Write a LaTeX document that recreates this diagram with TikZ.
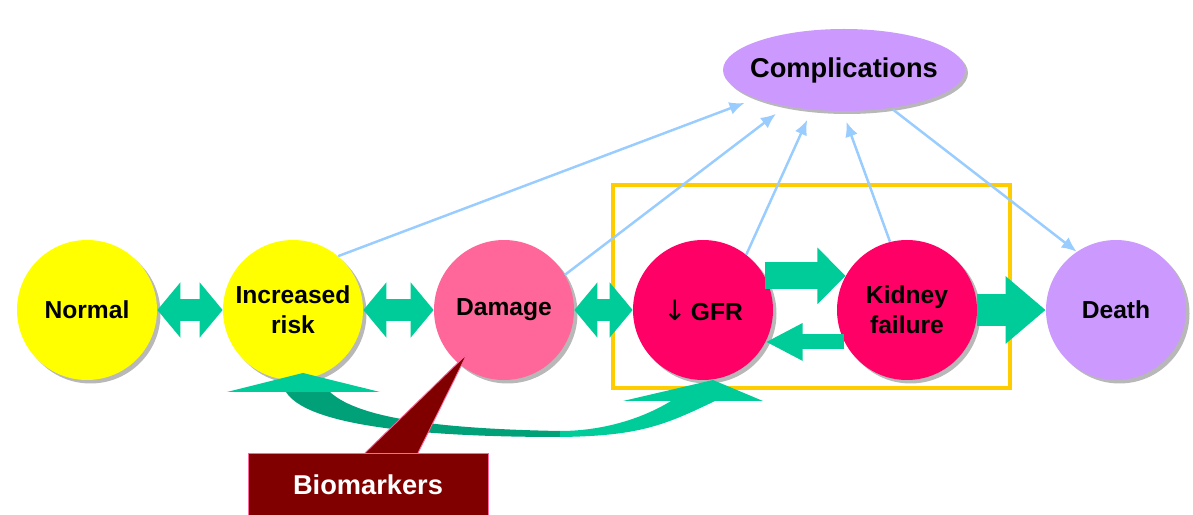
\documentclass[tikz,border=0pt]{standalone}
\usepackage{fontspec}
\setmainfont{Liberation Sans}
\newfontfamily\arrowfont{DejaVu Sans}
\usepackage{tikz}
\usetikzlibrary{shapes.geometric, arrows.meta, positioning, calc, shadows}
\definecolor{myyellow}{RGB}{255,255,0}
\definecolor{mypink}{RGB}{255,102,153}
\definecolor{mymagenta}{RGB}{255,0,102}
\definecolor{mylilac}{RGB}{204,153,255}
\definecolor{mygreen}{RGB}{0,204,153}
\definecolor{mydkgreen}{RGB}{0,160,120}
\definecolor{myblue}{RGB}{153,204,255}
\definecolor{mygold}{RGB}{255,204,0}
\definecolor{mymaroon}{RGB}{128,0,0}
\tikzset{
  stage/.style={circle, minimum size=2.8cm, inner sep=0pt, align=center,
    font=\fontsize{14}{17}\selectfont\bfseries,
    drop shadow={shadow xshift=0.07cm, shadow yshift=-0.07cm, fill=black!28, opacity=1}},
  fatarrow/.style={draw=mygreen, line width=0.44cm,
    arrows={Triangle[width=1.08cm,length=0.46cm]-Triangle[width=1.08cm,length=0.46cm]}},
  link/.style={draw=myblue, line width=1.4pt, -{Latex[length=0.3cm,width=0.26cm]}},
  callout/.style={rectangle, fill=mymaroon, draw=mypink, line width=0.5pt,
    text=white, minimum width=4.8cm, minimum height=1.36cm,
    font=\fontsize{15.5}{18}\selectfont\bfseries}
}

\begin{document}
\begin{tikzpicture}
  \useasboundingbox (0,0) rectangle (23.86,10.3);
  \clip (0,0) rectangle (23.86,10.3);

  % Box round the kidney stages
  \draw[mygold, line width=1.8pt] (12.26,2.54) rectangle (20.2,6.6);

  % Stages
  \node[stage, fill=myyellow] (norm) at (1.74,4.1) {Normal};
  \node[stage, fill=myyellow] (inc) at (5.86,4.1) {Increased\\risk};
  \node[stage, fill=mypink] (dmg) at (10.08,4.1) {Damage};
  \node[stage, fill=mymagenta] (gfr) at (14.06,4.1) {{\arrowfont\mdseries\fontsize{16}{17}\selectfont ↓}\,GFR};
  \node[stage, fill=mymagenta] (kid) at (18.14,4.1) {Kidney\\failure};
  \node[stage, fill=mylilac] (death) at (22.32,4.1) {Death};
  \node[ellipse, fill=mylilac, minimum width=4.84cm, minimum height=1.64cm,
    inner sep=0pt,
    label={[font=\fontsize{15.5}{18}\selectfont\bfseries]center:Complications},
    drop shadow={shadow xshift=0.06cm, shadow yshift=-0.06cm, fill=black!28, opacity=1}]
    (comp) at (16.88,8.9) {};

  % Links to and from complications
  \draw[link, shorten >=0.25cm] (inc.50) -- (comp.198);
  \draw[link, shorten >=0.25cm] (dmg.30) -- (comp.212);
  \draw[link, shorten >=0.22cm] (gfr.52) -- (comp.231);
  \draw[link, shorten >=0.22cm] (kid.104) -- (comp.268);
  \draw[link, shorten <=0.05cm] (comp.321) -- (death.124);

  % Green block arrows
  \draw[fatarrow] (norm.east) -- (inc.west);
  \draw[fatarrow] (inc.east) -- (dmg.west);
  \draw[fatarrow] (dmg.east) -- (gfr.west);
  \draw[draw=mygreen, line width=0.54cm,
    arrows={-Triangle[width=1.1cm,length=0.56cm]}] (gfr.29) -- (kid.151);
  \draw[draw=mygreen, line width=0.3cm,
    arrows={-Triangle[width=0.7cm,length=0.74cm]}] (kid.207) -- (gfr.-27);
  \draw[draw=mygreen, line width=0.64cm,
    arrows={-Triangle[width=1.3cm,length=0.8cm]}] (kid.east) -- (death.west);

  % Curved arrow below
  \fill[mydkgreen] (5.72,2.46) .. controls (6.2,1.7) and (9.0,1.56) .. (11.2,1.56)
    -- (11.2,1.68) .. controls (9.0,1.72) and (7.2,1.9) .. (6.6,2.46) -- cycle;
  \fill[mygreen] (11.2,1.56) .. controls (12.8,1.58) and (13.3,1.8) .. (14.3,2.28)
    -- (13.42,2.28) .. controls (12.8,1.9) and (12.0,1.68) .. (11.2,1.68) -- cycle;
  \fill[mygreen] (4.54,2.46) -- (6.06,2.84) -- (7.6,2.46) -- cycle;
  \fill[mygreen] (12.46,2.28) -- (14.26,2.7) -- (15.26,2.28) -- cycle;

  % Biomarkers callout
  \node[callout, anchor=north] (bio) at (7.36,1.24) {\raisebox{0.1cm}{Biomarkers}};
  \coordinate (tip) at ($(dmg.center)+(-0.74,-0.88)$);
  \fill[mymaroon] ($(bio.north)+(-0.06,0)$) -- (tip) -- ($(bio.north)+(1.0,0)$) -- cycle;
  \draw[mypink, line width=0.5pt] ($(bio.north)+(-0.06,0)$) -- (tip) -- ($(bio.north)+(1.0,0)$);
\end{tikzpicture}
\end{document}
